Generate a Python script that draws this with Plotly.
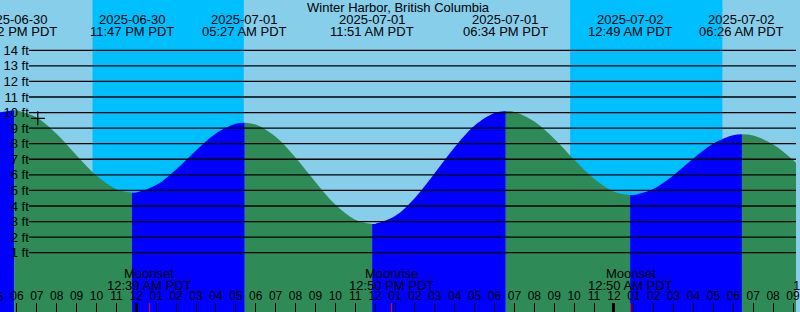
import plotly.graph_objects as go
import pandas as pd

# ---------------- data ----------------
station = "Winter Harbor, British Columbia"

extreme_times = ["2025-06-30 17:52", "2025-06-30 23:47", "2025-07-01 05:27",
                 "2025-07-01 11:51", "2025-07-01 18:34", "2025-07-02 00:49",
                 "2025-07-02 06:26"]
extreme_heights = [10.15, 4.85, 9.35, 2.84, 10.10, 4.70, 8.60]
extreme_dates = ["2025-06-30", "2025-06-30", "2025-07-01", "2025-07-01",
                 "2025-07-01", "2025-07-02", "2025-07-02"]
extreme_clock = ["05:52 PM PDT", "11:47 PM PDT", "05:27 AM PDT", "11:51 AM PDT",
                 "06:34 PM PDT", "12:49 AM PDT", "06:26 AM PDT"]

# hourly heights (ft), 2025-06-30 17:00 .. 2025-07-02 10:00
hourly_start = "2025-06-30 17:00"
hourly_heights = [10.00, 10.14, 9.68, 8.62, 7.25, 5.95, 5.08,
                  4.87, 5.34, 6.35, 7.57, 8.66, 9.28,
                  9.23, 8.45, 7.11, 5.54, 4.09, 3.12,
                  2.85, 3.35, 4.52, 6.12, 7.78, 9.17, 9.97,
                  10.04, 9.43, 8.32, 6.98, 5.75,
                  4.92, 4.71, 5.11, 5.98, 7.06, 8.01, 8.54,
                  8.52, 7.95, 6.95, 5.60]

sunset_times = ["2025-06-30 21:48", "2025-07-01 21:48"]
sunrise_times = ["2025-07-01 05:24", "2025-07-02 05:27"]

moon_events = ["Moonset", "Moonrise", "Moonset"]
moon_times = ["2025-07-01 00:39", "2025-07-01 12:50", "2025-07-02 00:50"]
moon_clock = ["12:39 AM PDT", "12:50 PM PDT", "12:50 AM PDT"]

midnights = ["2025-07-01 00:00", "2025-07-02 00:00"]

now_time = ["2025-06-30 19:03"]
now_height = [9.63]

grid_levels = list(range(1, 15))
grid_labels = [f"{v} ft" for v in grid_levels]

x_range = ["2025-06-30 17:09", "2025-07-02 09:09"]
y_range = [-2.81, 17.23]

# ---------------- colours ----------------
DAY = "#87CEEB"
NIGHT = "#00BFFF"
FALL = "#2E8B57"
RISE = "#0000FF"
FONT = "Liberation Sans, Arial, sans-serif"

W, H = 800, 312

fig = go.Figure()

hourly_dt = list(pd.date_range(hourly_start, periods=len(hourly_heights), freq="h"))
ext_dt = [pd.Timestamp(t) for t in extreme_times]
pts = sorted(list(zip(hourly_dt, hourly_heights)) + list(zip(ext_dt, extreme_heights)))
ext_set = set(ext_dt)
breaks = [0] + [i for i, (t, h) in enumerate(pts) if t in ext_set] + [len(pts) - 1]

for a, b in zip(breaks[:-1], breaks[1:]):
    seg = pts[a:b + 1]
    xs = [p[0] for p in seg]
    ys = [p[1] for p in seg]
    color = RISE if ys[-1] > ys[0] else FALL
    fig.add_trace(go.Scatter(x=[xs[0], xs[-1]], y=[-5, -5], mode="lines",
                             line=dict(width=0), hoverinfo="skip", showlegend=False))
    fig.add_trace(go.Scatter(x=xs, y=ys, mode="lines", fill="tonexty",
                             fillcolor=color, line=dict(width=0, shape="spline", color=color),
                             hoverinfo="skip", showlegend=False))

# current-time marker
fig.add_trace(go.Scatter(x=now_time, y=now_height, mode="markers",
                         marker=dict(symbol="cross-thin", size=10,
                                     line=dict(color="black", width=1.2)),
                         hoverinfo="skip", showlegend=False))

# helper traces for overlay tick axes
fig.add_trace(go.Scatter(x=midnights, y=[-5, -5], xaxis="x2", mode="markers",
                         marker=dict(opacity=0), hoverinfo="skip", showlegend=False))
fig.add_trace(go.Scatter(x=moon_times, y=[-5] * len(moon_times), xaxis="x3", mode="markers",
                         marker=dict(opacity=0), hoverinfo="skip", showlegend=False))

shapes = []
for s, r in zip(sunset_times, sunrise_times):
    shapes.append(dict(type="rect", xref="x", yref="paper", x0=s, x1=r, y0=0, y1=1,
                       fillcolor=NIGHT, line=dict(width=0), layer="below"))
for lv in grid_levels:
    shapes.append(dict(type="line", xref="paper", yref="y", x0=29 / W, x1=1, y0=lv, y1=lv,
                       line=dict(color="black", width=1.3), layer="above"))

annotations = []


def py(pix):
    return 1 - pix / H


annotations.append(dict(text=station, x=0.5, xref="paper", y=py(7.5), yref="paper",
                        yanchor="middle", showarrow=False,
                        font=dict(family=FONT, size=13, color="black")))
for t, d, c in zip(extreme_times, extreme_dates, extreme_clock):
    annotations.append(dict(text=d, x=t, xref="x", y=py(19.5), yref="paper",
                            yanchor="middle", showarrow=False,
                            font=dict(family=FONT, size=13, color="black")))
    annotations.append(dict(text=c, x=t, xref="x", y=py(31.5), yref="paper",
                            yanchor="middle", showarrow=False,
                            font=dict(family=FONT, size=13, color="black")))
for t, e, c in zip(moon_times, moon_events, moon_clock):
    annotations.append(dict(text=e, x=t, xref="x", y=py(273.5), yref="paper",
                            yanchor="middle", showarrow=False,
                            font=dict(family=FONT, size=13, color="black")))
    annotations.append(dict(text=c, x=t, xref="x", y=py(285.5), yref="paper",
                            yanchor="middle", showarrow=False,
                            font=dict(family=FONT, size=13, color="black")))
# partial texts cut by the right / left edges
annotations.append(dict(text="1", x=795 / W, xref="paper", xanchor="left", y=py(285.5),
                        yref="paper", yanchor="middle", showarrow=False,
                        font=dict(family=FONT, size=13, color="black")))
annotations.append(dict(text="05", x=-3 / W, xref="paper", xanchor="center", y=py(297),
                        yref="paper", yanchor="middle", showarrow=False,
                        font=dict(family=FONT, size=12, color="black")))

tickaxis = dict(range=x_range, type="date", showgrid=False, zeroline=False,
                showline=False, overlaying="x", anchor="y", showticklabels=False,
                ticks="inside", ticklen=9)

fig.update_layout(
    width=W, height=H,
    margin=dict(l=0, r=0, t=0, b=0),
    paper_bgcolor=DAY, plot_bgcolor=DAY,
    shapes=shapes, annotations=annotations,
    xaxis=dict(range=x_range, type="date", domain=[0, 1],
               tick0="2025-06-30 00:00", dtick=3600000, tickformat="%I",
               ticks="inside", ticklen=9, tickwidth=1, tickcolor="black",
               ticklabelposition="inside", ticklabeloverflow="allow",
               tickfont=dict(family=FONT, size=12, color="black"),
               showgrid=False, zeroline=False, showline=False),
    xaxis2=dict(tickaxis, tickvals=midnights, tickwidth=3, tickcolor="black"),
    xaxis3=dict(tickaxis, tickvals=moon_times, tickwidth=1, tickcolor="red"),
    yaxis=dict(range=y_range, tickvals=grid_levels, ticktext=grid_labels,
               anchor="free", position=29 / W, ticks="", showgrid=False,
               zeroline=False, showline=False,
               tickfont=dict(family=FONT, size=13, color="black")),
    showlegend=False,
)

fig.write_html("out.html")
